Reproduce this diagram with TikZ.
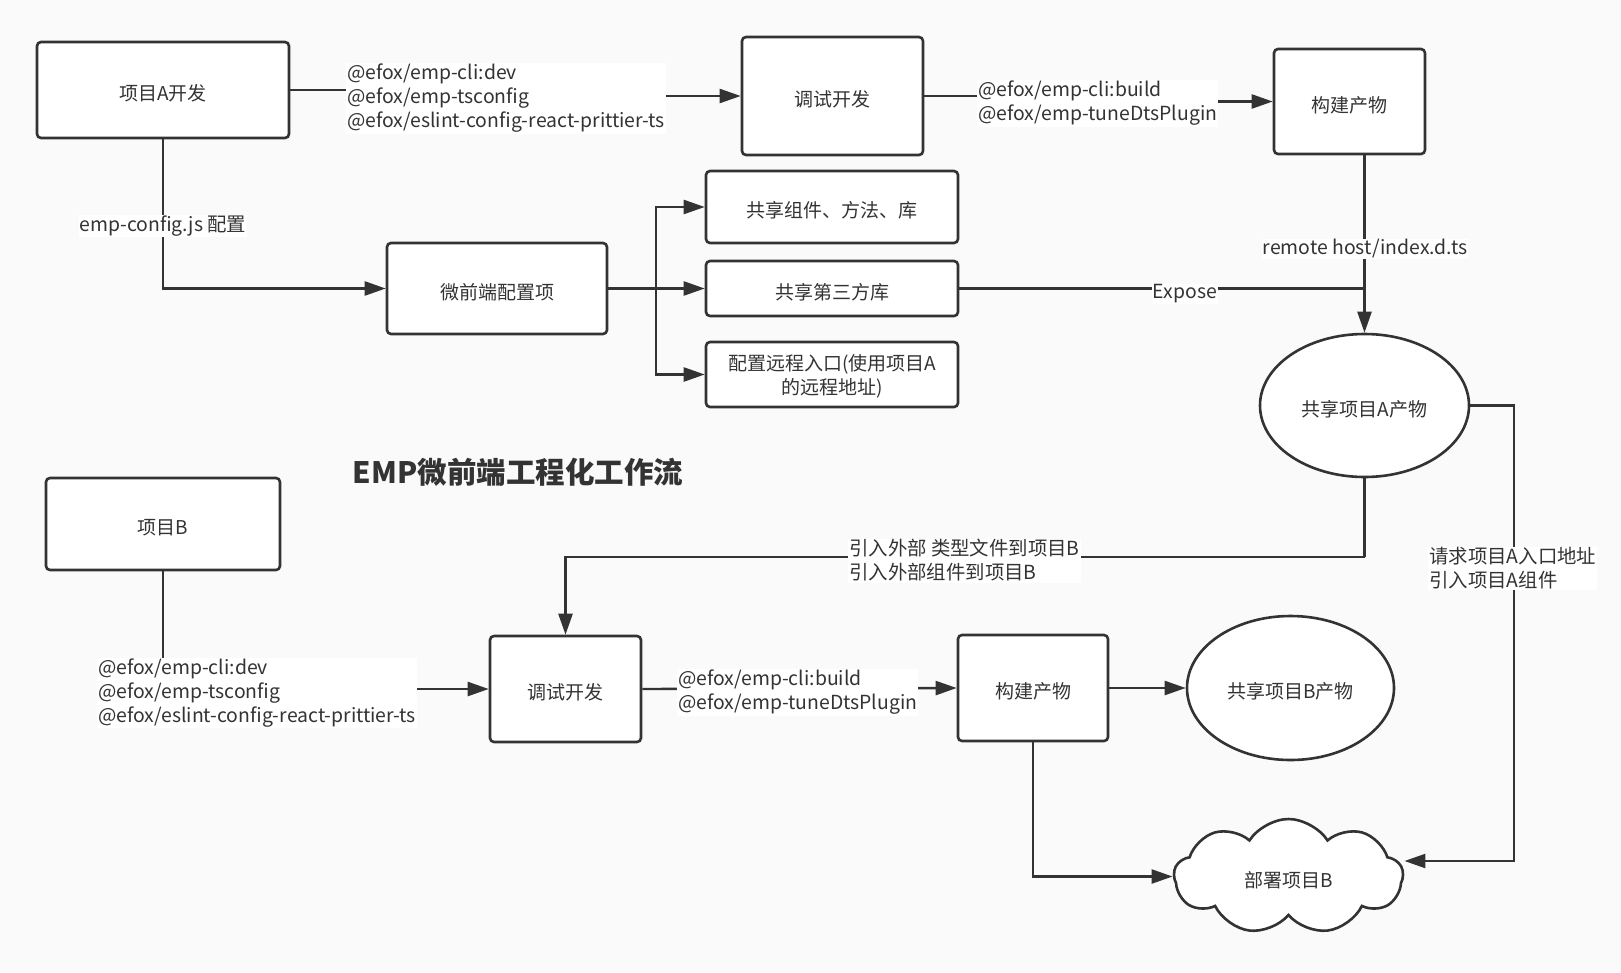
\documentclass[tikz,border=0pt]{standalone}
\usepackage{fontspec}
\setmainfont{Noto Sans CJK SC}
\usepackage{tikz}
\usetikzlibrary{arrows.meta,backgrounds,positioning,shapes.geometric,shapes.symbols}
\definecolor{ink}{HTML}{333333}
\definecolor{paper}{HTML}{FAFAFA}
\tikzstyle{box}=[
	draw=ink,
	line width=2.6pt,
	fill=white,
	rectangle,
	rounded corners=4pt,
	align=center,
	inner sep=0pt,
	text height=23pt,
	text=ink,
	font=\fontsize{19}{24}\selectfont]
\tikzstyle{oval}=[
	draw=ink,
	line width=2.6pt,
	fill=white,
	ellipse,
	align=center,
	inner sep=0pt,
	text height=23pt,
	text=ink,
	font=\fontsize{19}{24}\selectfont]
\tikzstyle{cloudy}=[
	draw=ink,
	line width=2.6pt,
	fill=white,
	cloud,
	cloud puffs=9,
	cloud puff arc=115,
	aspect=2,
	inner sep=0pt,
	text height=23pt,
	text=ink,
	font=\fontsize{19}{24}\selectfont]
\tikzstyle{lbl}=[
	fill=white,
	align=left,
	inner sep=1pt,
	text=ink,
	font=\fontsize{19.4}{24}\selectfont]
\tikzstyle{wire}=[
	draw=ink,
	line width=2.4pt]
\begin{document}
\begin{tikzpicture}[x=1pt,y=-1pt,>={Triangle[length=21pt,width=14pt]}]
	\useasboundingbox (0,0) rectangle (1621,972);
	\begin{scope}
		\node[box,minimum width=252,minimum height=96]	(pa)	at (163,90)	{项目A开发};
		\node[box,minimum width=181,minimum height=118]	(dbga)	at (832.5,96)	{调试开发};
		\node[box,minimum width=151,minimum height=105]	(blda)	at (1349.5,101.5)	{构建产物};
		\node[box,minimum width=220,minimum height=91]	(cfg)	at (497,288.5)	{微前端配置项};
		\node[box,minimum width=252,minimum height=72]	(shr1)	at (832,207)	{共享组件、方法、库};
		\node[box,minimum width=252,minimum height=55]	(shr2)	at (832,288.5)	{共享第三方库};
		\node[box,minimum width=252,minimum height=65,text height=,text depth=0pt]	(shr3)	at (832,374.5)	{配置远程入口(使用项目A\\的远程地址)};
		\node[oval,minimum width=209,minimum height=143]	(outa)	at (1364.5,405.5)	{共享项目A产物};
	\end{scope}
	\begin{scope}
		\node[box,minimum width=234,minimum height=92]	(pb)	at (163,524)	{项目B};
		\node[box,minimum width=151,minimum height=106]	(dbgb)	at (565.5,689)	{调试开发};
		\node[box,minimum width=150,minimum height=106]	(bldb)	at (1033,688)	{构建产物};
		\node[oval,minimum width=207,minimum height=144]	(outb)	at (1290.5,688)	{共享项目B产物};
		\node[cloudy,minimum width=229,minimum height=115]	(dep)	at (1288.5,876.5)	{部署项目B};
	\end{scope}
	\node[text=ink,font=\bfseries\fontsize{29.5}{34}\selectfont] (title) at (518,472) {EMP微前端工程化工作流};
	\begin{scope}
		\node[lbl,anchor=west]	(lab1)	at (346,98.5)	{@efox/emp-cli:dev\\@efox/emp-tsconfig\\@efox/eslint-config-react-prittier-ts};
		\node[lbl,anchor=west]	(lab2)	at (977,103.5)	{@efox/emp-cli:build\\@efox/emp-tuneDtsPlugin};
		\node[lbl]	(labcfg)	at (163,226)	{emp-config.js 配置};
		\node[lbl]	(labhost)	at (1365,249)	{remote host/index.d.ts};
		\node[lbl]	(labexp)	at (1185,294)	{Expose};
		\node[lbl,anchor=west]	(labimp)	at (848,560.5)	{引入外部 类型文件到项目B\\引入外部组件到项目B};
		\node[lbl,anchor=west]	(labreq)	at (1428,568.5)	{请求项目A入口地址\\引入项目A组件};
		\node[lbl,anchor=west]	(lab3)	at (97,693)	{@efox/emp-cli:dev\\@efox/emp-tsconfig\\@efox/eslint-config-react-prittier-ts};
		\node[lbl,anchor=west]	(lab4)	at (677,692.5)	{@efox/emp-cli:build\\@efox/emp-tuneDtsPlugin};
	\end{scope}
	\coordinate (fork) at (656,288.5);
	\coordinate (jb) at (1365,557);
	\coordinate (jr) at (1514,861);
	\begin{scope}[on background layer]
		\fill[paper] (0,0) rectangle (1621,972);
	\end{scope}
	\begin{scope}[on background layer={wire}]
		\draw[->] (pa.east) -| (lab1.center) |- (dbga.west);
		\draw[->] (dbga.east) -| (lab2.center) |- (blda.west);
		\draw[->] (pa.south) |- (cfg.west);
		\draw (cfg.east) -- (fork);
		\foreach \t in {shr1,shr2,shr3}
			\draw[->] (fork) |- (\t.west);
		\draw[->] (blda.south -| outa.north) -- (outa.north);
		\draw (shr2.east) -- (shr2.east -| outa.north);
		\draw[->] (outa.south) |- (jb) -| (dbgb.north);
		\draw[->] (pb.south) |- (dbgb.west);
		\draw[->] (dbgb.east) -- (bldb.west);
		\draw[->] (bldb.east) -- (outb.west);
		\draw[->] (bldb.south) |- (dep.west);
		\draw[->] (outa.east) -| (jr) -- (dep.east |- jr);
	\end{scope}
\end{tikzpicture}
\end{document}
